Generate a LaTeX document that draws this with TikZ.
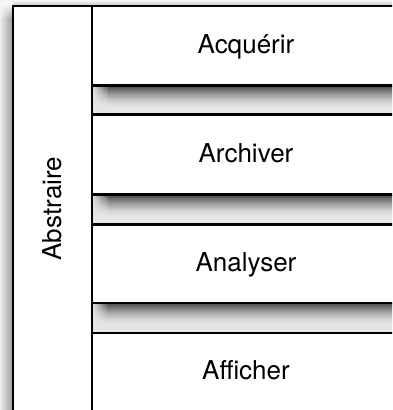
\documentclass[tikz,border=0pt]{standalone}
\usepackage{fontspec}
\setmainfont{TeX Gyre Heros}
\begin{document}
\begin{tikzpicture}[x=1pt,y=-1pt,
  stagebox/.style={draw=black, line width=2.3pt, fill=white, minimum width=308pt,
    inner sep=0pt, text height=15pt, text depth=0pt,
    font=\fontsize{26}{30}\selectfont, anchor=center},
  sidebox/.style={draw=black, line width=2.3pt, fill=white, rotate=90,
    minimum width=405.5pt, minimum height=79pt, inner sep=0pt,
    font=\fontsize{26}{30}\selectfont},
  bandfill/.style={fill=black!10}]
\useasboundingbox (0,0) rectangle (392,410);
\clip (0,0) rectangle (392,410);
\fill[white] (0,0) rectangle (392,410);
% outer drop shadow
\fill[black!4] (0,0) rectangle (13,6);
\shade[top color=black!3, bottom color=black!22] (13,0) rectangle (392,6);
\foreach \j in {0,...,11}{
  \pgfmathtruncatemacro\r{10+30*\j/12}
  \shade[left color=black!5, right color=black!\r] (0,{6+\j}) rectangle (13,{7.05+\j});
}
\shade[left color=black!7, right color=black!40] (0,18) rectangle (13,410);
% bands between stages: shadow cast by the stage above
\foreach \a/\b in {85.5/114.5,194.5/224.5,303/333}{
  \fill[bandfill] (92,\a) rectangle (400,\b);
  \foreach \t in {0,...,21}{
    \pgfmathtruncatemacro\c{10+62*(1-\t/22)^1.6}
    \shade[left color=black!10, right color=black!\c] (92,{\a+\t}) rectangle (108,{\a+\t+1.05});
    \fill[black!\c] (108,{\a+\t}) rectangle (400,{\a+\t+1.05});
  }
}
% stages
\node[stagebox, minimum height=79.5pt] (acq) at (246,45.75) {Acquérir};
\node[stagebox, minimum height=80pt] (arc) at (246,154.5) {Archiver};
\node[stagebox, minimum height=78.5pt] (ana) at (246,263.75) {Analyser};
\node[stagebox, minimum height=78.5pt] (aff) at (246,372.25) {Afficher};
% side column
\node[sidebox] (abs) at (52.5,208.75) {Abstraire};
\end{tikzpicture}
\end{document}
